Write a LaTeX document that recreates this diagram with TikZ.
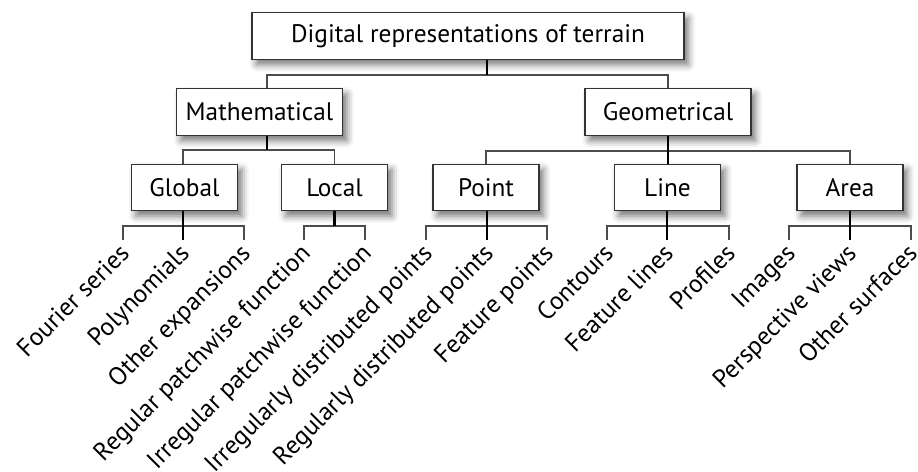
\documentclass[tikz,border=0pt]{standalone}
\usepackage{fontspec}
\setmainfont{PT Sans}
\usetikzlibrary{shadows.blur}

\begin{document}
\begin{tikzpicture}[x=0.02cm, y=-0.02cm, font=\fontsize{14.4}{17}\selectfont,
    box/.style={draw=black!80, line width=0.8pt, fill=white, minimum height=0.93cm, inner sep=2pt,
        blur shadow={shadow xshift=2.5pt, shadow yshift=-3pt, shadow blur radius=4pt, shadow opacity=55}},
    stem/.style={line width=1.6pt, black},
    bar/.style={line width=0.8pt, black!70},
    leaf/.style={rotate=45, anchor=north east, inner sep=1pt}]
\useasboundingbox (0,0) rectangle (918,472);

% --- Boxes ---
\node[box, minimum width=8.64cm] (root) at (468,36) {Digital representations of terrain};
\node[box, minimum width=3.32cm] (math) at (259.5,112) {Mathematical};
\node[box, minimum width=3.32cm] (geo) at (668,112) {Geometrical};
\foreach \n/\x/\t in {global/184.5/Global, local/334.5/Local, point/486/Point, line/667.5/Line, area/850/Area}
    \node[box, minimum width=2.12cm] (\n) at (\x,187.5) {\t};

% --- Leaves ---
\foreach \i/\x/\t in {1/123/Fourier series, 2/183/Polynomials, 3/244/Other expansions,
    4/304/Regular patchwise function, 5/365/Irregular patchwise function,
    6/426/Irregularly distributed points, 7/487/Regularly distributed points, 8/547/Feature points,
    9/607/Contours, 10/667/Feature lines, 11/729/Profiles,
    12/789/Images, 13/850/Perspective views, 14/911/Other surfaces}
{
    \coordinate (t\i) at (\x,240);
    \node[leaf] (leaf\i) at ([xshift=-0.1cm, yshift=0.02cm]t\i) {\t};
}

% --- Junctions ---
\coordinate (j0) at (487,75);   % below the root
\coordinate (j1) at (267,150);  % below Mathematical
\coordinate (j2) at (668,151);  % below Geometrical
\coordinate (lb) at (0,226);    % level of the leaf bars

% root
\draw[bar] (math.north -| j1) |- (j0) -| (geo.north);
\draw[stem] (root.south -| j0) -- (j0);

% Mathematical
\draw[bar] (global.north -| t2) |- (j1) -| (local.north);
\draw[stem] (math.south -| j1) -- (j1);

% Geometrical
\draw[bar] (point.north) |- (j2) -| (area.north);
\draw[stem] (geo.south) -- (geo.south |- line.north);

% leaf bars (three leaves)
\foreach \p/\a/\m/\b in {global/1/2/3, point/6/7/8, line/9/10/11, area/12/13/14}
{
    \draw[bar] (t\a) |- (t\b |- lb) -- (t\b);
    \draw[stem] (\p.south -| t\m) -- (t\m);
}
% leaf bar (two leaves)
\draw[bar] (t4) |- (t5 |- lb) -- (t5);
\draw[stem] (local.south) -- (local.south |- lb);
\end{tikzpicture}
\end{document}
